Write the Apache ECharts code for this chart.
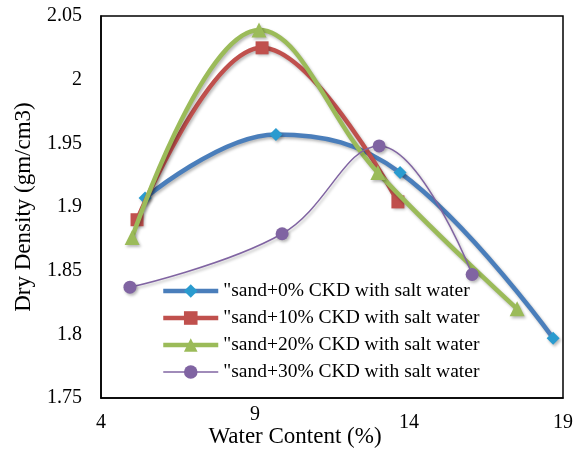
<!DOCTYPE html>
<html>
<head>
<meta charset="utf-8">
<script src="https://cdn.jsdelivr.net/npm/echarts@6/dist/echarts.min.js"></script>
<style>
  html, body { margin: 0; padding: 0; background: #fff; }
  #chart { width: 582px; height: 454px; }
</style>
</head>
<body>
<div id="chart"></div>
<script>
// Compaction curves: dry density vs water content for sand + CKD mixes
const seriesNames = [
  '"sand+0% CKD with salt water',
  '"sand+10% CKD with salt water',
  '"sand+20% CKD with salt water',
  '"sand+30% CKD with salt water'
];

// Water content (%) for each mix
const water0  = [5.43, 9.68, 13.71, 18.68];
const water10 = [5.17, 9.23, 13.64];
const water20 = [5.01, 9.13, 12.99, 17.51];
const water30 = [4.94, 9.88, 13.03, 16.05];

// Dry density (gm/cm3) for each mix
const density0  = [1.907, 1.957, 1.927, 1.797];
const density10 = [1.890, 2.025, 1.904];
const density20 = [1.876, 2.039, 1.927, 1.820];
const density30 = [1.837, 1.879, 1.948, 1.847];

const xTicks = [4, 9, 14, 19];
const yTicks = [1.75, 1.8, 1.85, 1.9, 1.95, 2, 2.05];

const FONT = '"Liberation Serif", "Times New Roman", serif';

function pairs(xs, ys) {
  return xs.map((x, i) => [x, ys[i]]);
}

const shadow = {
  shadowColor: 'rgba(0,0,0,0.28)',
  shadowBlur: 3,
  shadowOffsetX: 1.5,
  shadowOffsetY: 2
};

const styles = [
  { line: '#4A7EBB', marker: '#2A9BCF', symbol: 'diamond', size: 13, width: 4.5 },
  { line: '#C0504D', marker: '#C0504D', symbol: 'rect', size: 13, width: 4.5 },
  { line: '#9BBB59', marker: '#9BBB59', symbol: 'triangle', size: 15, width: 4.5 },
  { line: '#8064A2', marker: '#8064A2', symbol: 'circle', size: 13, width: 1.5 }
];

const dataSets = [
  pairs(water0, density0),
  pairs(water10, density10),
  pairs(water20, density20),
  pairs(water30, density30)
];

const chart = echarts.init(document.getElementById('chart'), null, { renderer: 'canvas' });

chart.setOption({
  animation: false,
  backgroundColor: '#fff',
  grid: {
    left: 101, right: 19, top: 16, bottom: 56,
    show: true,
    borderColor: '#000',
    borderWidth: 1.5,
    containLabel: false,
    outerBoundsMode: 'none'
  },
  xAxis: {
    type: 'value',
    min: xTicks[0],
    max: xTicks[xTicks.length - 1],
    interval: xTicks[1] - xTicks[0],
    name: 'Water Content (%)',
    nameLocation: 'middle',
    nameGap: 27,
    nameMoveOverlap: false,
    nameTextStyle: { fontFamily: FONT, fontSize: 23, color: '#000', padding: [0, 74, 0, 0] },
    axisLine: { show: true, lineStyle: { color: '#000', width: 1.5 } },
    axisTick: { show: false },
    splitLine: { show: false },
    axisLabel: {
      fontFamily: FONT, fontSize: 20, color: '#000', margin: 7,
      // the label sitting above the axis title is lifted slightly
      formatter: v => (v === 9 ? '{up|' + v + '}' : '{d|' + v + '}'),
      rich: {
        d: { fontFamily: FONT, fontSize: 20, color: '#000', padding: [8, 0, 0, 0] },
        up: { fontFamily: FONT, fontSize: 20, color: '#000', padding: [0, 0, 0, 0] }
      }
    }
  },
  yAxis: {
    type: 'value',
    min: yTicks[0],
    max: yTicks[yTicks.length - 1],
    interval: 0.05,
    name: 'Dry Density (gm/cm3)',
    nameLocation: 'middle',
    nameGap: 66,
    nameMoveOverlap: false,
    nameTextStyle: { fontFamily: FONT, fontSize: 23, color: '#000' },
    axisLine: { show: true, lineStyle: { color: '#000', width: 1.5 } },
    axisTick: { show: false },
    splitLine: { show: false },
    axisLabel: {
      fontFamily: FONT, fontSize: 20, color: '#000', margin: 19,
      formatter: v => String(parseFloat(v.toFixed(2)))
    }
  },
  legend: {
    orient: 'vertical',
    left: 156,
    top: 276,
    itemWidth: 55,
    itemHeight: 17,
    itemGap: 7,
    lineStyle: { width: 'inherit' },
    textStyle: { fontFamily: FONT, fontSize: 19.5, color: '#000', lineHeight: 20 },
    data: seriesNames
  },
  series: seriesNames.map((name, i) => ({
    name: name,
    type: 'line',
    smooth: 0.4,
    data: dataSets[i],
    symbol: styles[i].symbol,
    symbolSize: styles[i].size,
    lineStyle: Object.assign({ color: styles[i].line, width: styles[i].width }, shadow),
    itemStyle: Object.assign({ color: styles[i].marker }, shadow),
    z: 2 + i
  }))
});
</script>
</body>
</html>
